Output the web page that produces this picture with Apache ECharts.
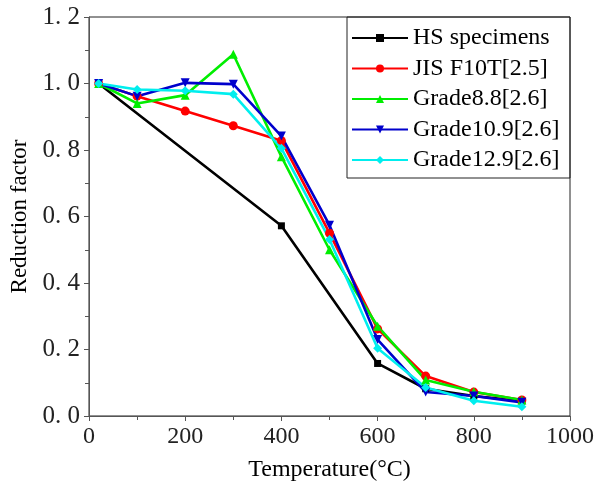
<!DOCTYPE html>
<html>
<head>
<meta charset="utf-8">
<script src="https://cdn.jsdelivr.net/npm/echarts@6/dist/echarts.min.js"></script>
<style>
  html, body { margin: 0; padding: 0; background: #fff; }
  #chart { width: 597px; height: 493px; }
</style>
</head>
<body>
<div id="chart"></div>
<script>
// Temperatures (°C)
const hsTemps = [20, 400, 600, 700, 800, 900];
const refTemps = [20, 100, 200, 300, 400, 500, 600, 700, 800, 900];

// Reduction factors
const hsSpecimens = [1.0, 0.572, 0.158, 0.082, 0.06, 0.045];
const jisF10T = [1.0, 0.962, 0.917, 0.873, 0.828, 0.55, 0.262, 0.12, 0.072, 0.048];
const grade88 = [1.0, 0.94, 0.965, 1.088, 0.78, 0.5, 0.27, 0.108, 0.073, 0.048];
const grade109 = [1.0, 0.962, 1.002, 0.998, 0.842, 0.574, 0.23, 0.072, 0.06, 0.041];
const grade129 = [1.0, 0.982, 0.978, 0.968, 0.805, 0.531, 0.204, 0.086, 0.046, 0.028];

const seriesNames = ['HS specimens', 'JIS F10T[2.5]', 'Grade8.8[2.6]', 'Grade10.9[2.6]', 'Grade12.9[2.6]'];
const seriesColors = ['#000000', '#ff0000', '#00ee00', '#0000cc', '#00eeee'];
const seriesSymbols = ['rect', 'circle', 'triangle', 'path://M0,0 L10,0 L5,10 Z', 'diamond'];
const seriesX = [hsTemps, refTemps, refTemps, refTemps, refTemps];
const seriesY = [hsSpecimens, jisF10T, grade88, grade109, grade129];

const serif = '"Liberation Serif", "DejaVu Serif", serif';

const chart = echarts.init(document.getElementById('chart'), null, { renderer: 'canvas' });

const series = seriesNames.map((name, i) => ({
  name: name,
  type: 'line',
  data: seriesX[i].map((t, j) => [t, seriesY[i][j]]),
  symbol: seriesSymbols[i],
  symbolSize: i === 0 ? 7 : 9,
  showAllSymbol: true,
  color: seriesColors[i],
  lineStyle: { width: 2.6, color: seriesColors[i] },
  itemStyle: { color: seriesColors[i] },
  emphasis: { disabled: true },
  animation: false
}));

chart.setOption({
  animation: false,
  grid: {
    left: 87, right: 26, top: 17, bottom: 77,
    show: true, borderColor: '#222', borderWidth: 1
  },
  legend: {
    orient: 'vertical',
    left: 346, top: 21,
    itemWidth: 56, itemHeight: 10,
    itemGap: 6.5,
    data: seriesNames,
    textStyle: { fontFamily: serif, fontSize: 24, color: '#000' }
  },
  graphic: [{
    type: 'rect',
    shape: { x: 347, y: 17, width: 223, height: 161 },
    style: { fill: 'none', stroke: '#222', lineWidth: 1 },
    silent: true
  }],
  xAxis: {
    type: 'value',
    min: 0, max: 1000, interval: 200,
    name: 'Temperature(°C)',
    nameLocation: 'middle',
    nameGap: 42,
    nameTextStyle: { fontFamily: serif, fontSize: 24, color: '#000' },
    axisLine: { lineStyle: { color: '#555', width: 1 } },
    axisTick: { show: true, inside: false, length: 5, lineStyle: { color: '#555' } },
    minorTick: { show: true, splitNumber: 2, length: 4, lineStyle: { color: '#555' } },
    splitLine: { show: false },
    axisLabel: {
      fontFamily: serif, fontSize: 24, color: '#222', margin: 9,
      formatter: v => String(v)
    }
  },
  yAxis: {
    type: 'value',
    min: 0, max: 1.2, interval: 0.2,
    name: 'Reduction factor',
    nameLocation: 'middle',
    nameGap: 58,
    nameRotate: 90,
    nameTextStyle: { fontFamily: serif, fontSize: 23, color: '#000' },
    axisLine: { show: true, lineStyle: { color: '#555', width: 1 } },
    axisTick: { show: true, inside: false, length: 5, lineStyle: { color: '#555' } },
    minorTick: { show: true, splitNumber: 2, length: 4, lineStyle: { color: '#555' } },
    splitLine: { show: false },
    axisLabel: {
      fontFamily: serif, fontSize: 25, color: '#222', margin: 9,
      formatter: v => v.toFixed(1).replace('.', '. ')
    }
  },
  series: series
});
</script>
</body>
</html>
